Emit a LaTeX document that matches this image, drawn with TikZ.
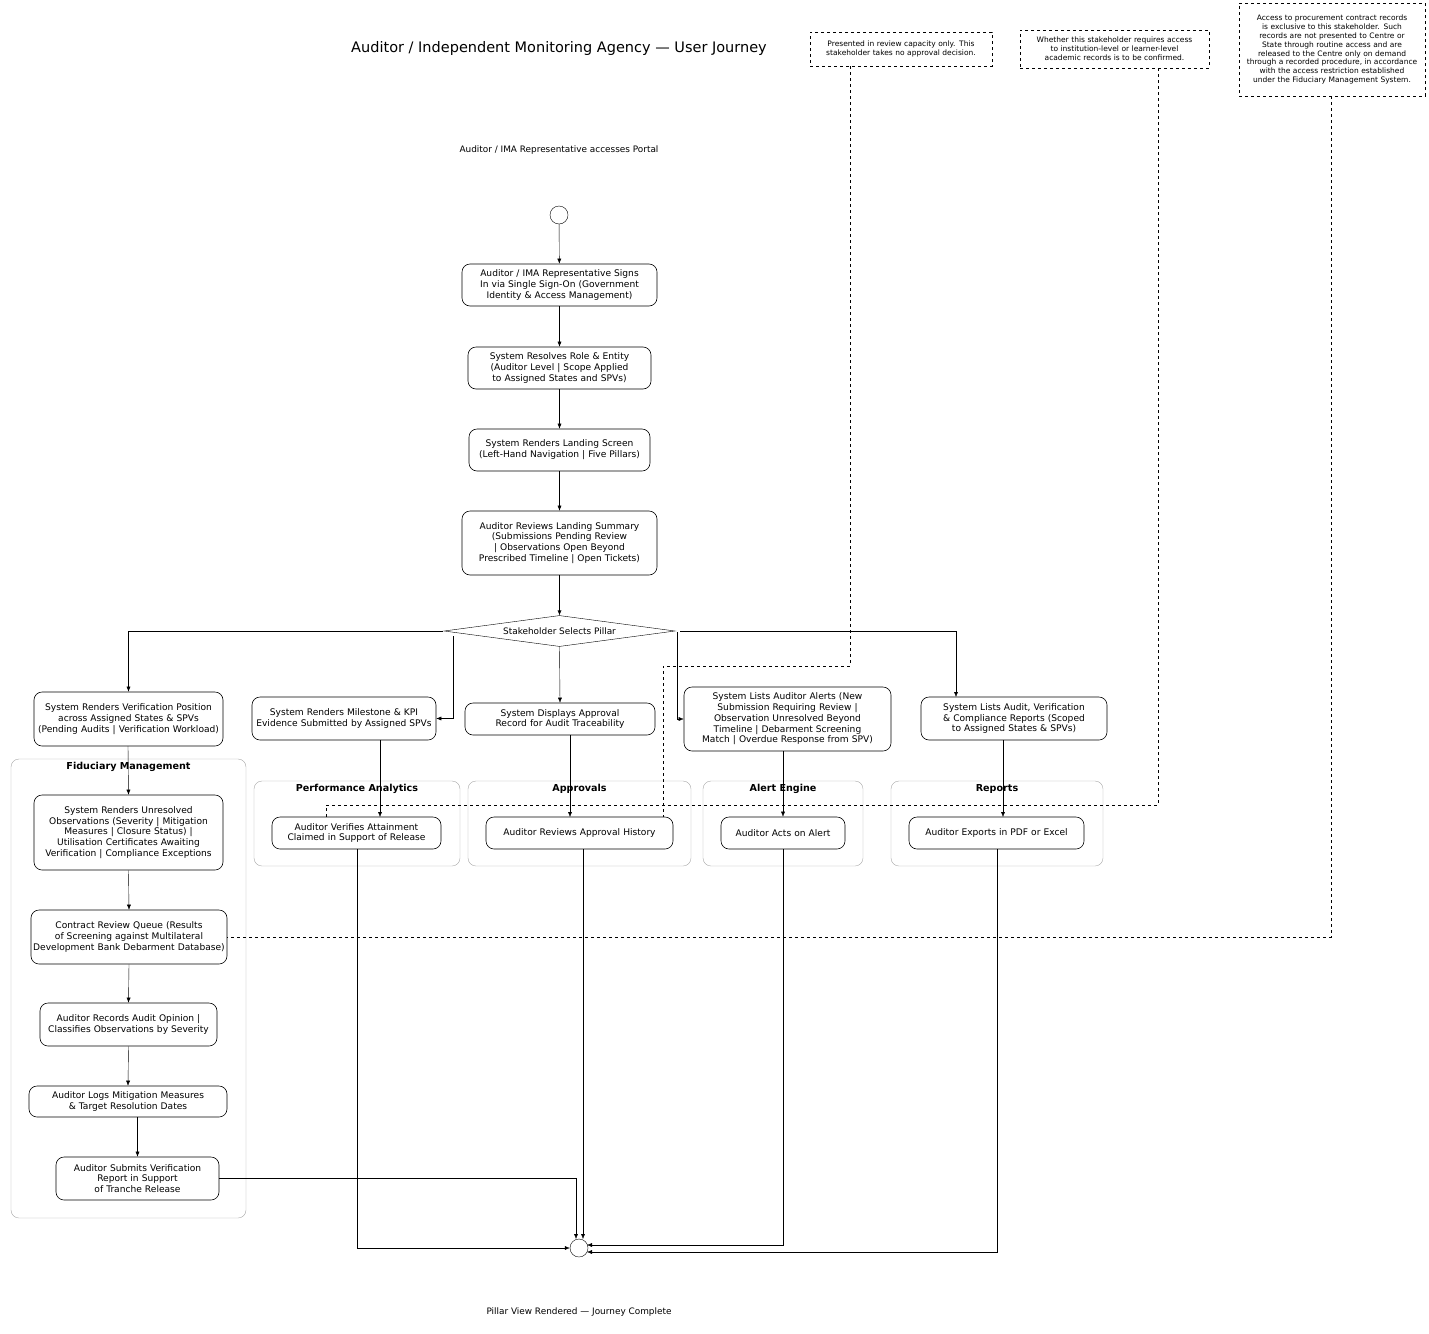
\documentclass[tikz,border=0pt]{standalone}
\usepackage{fontspec}
\setmainfont{DejaVu Sans}
\usetikzlibrary{shapes.geometric,arrows.meta}
\newcommand{\bx}[7]{% name, x1,y1,x2,y2, textwidth, text
 \node[box,minimum width={#4-#2},minimum height={#5-#3},text width=#6] (#1) at ({(#2+#4)/2},{(#3+#5)/2}) {#7};}
\newcommand{\cl}[6]{% name,x1,y1,x2,y2,label
 \draw[clus] (#2,#3) rectangle (#4,#5);
 \node[font=\fontsize{9.6}{11}\selectfont\bfseries] (#1) at ({(#2+#4)/2},{#3+8}) {#6};}
\begin{document}
\hyphenpenalty=10000 \exhyphenpenalty=10000
\begin{tikzpicture}[x=1pt,y=-1pt,
 box/.style={draw,semithick,rounded corners=8pt,align=center,inner sep=1pt,font=\fontsize{9.1}{10.8}\selectfont},
 note/.style={draw,dashed,semithick,align=center,font=\fontsize{7.5}{8.9}\selectfont,inner sep=1pt},
 clus/.style={draw=gray!70,rounded corners=8pt},
 ar/.style={-{Latex[length=5pt,width=4pt]}},
 dl/.style={dashed,semithick}]
\useasboundingbox (0,0) rectangle (1429,1333);
\node[font=\fontsize{14.5}{16}\selectfont] (title) at (559,48) {Auditor / Independent Monitoring Agency — User Journey};
\node[font=\fontsize{8.9}{10}\selectfont] (top) at (559,150) {Auditor / IMA Representative accesses Portal};
\node[font=\fontsize{8.9}{10}\selectfont] (bot) at (579,1312) {Pillar View Rendered — Journey Complete};
\node[draw,circle,minimum size=18pt,inner sep=0] (s) at (559,215) {};
\node[draw,circle,minimum size=18pt,inner sep=0] (e) at (579,1248) {};
% notes
\node[note,minimum width=182pt,minimum height=34pt,text width=172pt] (N1) at (901,49) {Presented in review capacity only. This stakeholder takes no approval decision.};
\node[note,minimum width=189pt,minimum height=38pt,text width=172pt] (N2) at (1114.5,49) {Whether this stakeholder requires access to institution-level or learner-level academic records is to be confirmed.};
\node[note,minimum width=186pt,minimum height=93pt,text width=176pt] (N3) at (1332,49.5) {Access to procurement contract records is exclusive to this stakeholder. Such records are not presented to Centre or State through routine access and are released to the Centre only on demand through a recorded procedure, in accordance with the access restriction established under the Fiduciary Management System.};
% clusters
\cl{C1}{11}{759}{246}{1218}{Fiduciary Management}
\cl{C2}{254}{781}{460}{866}{Performance Analytics}
\cl{C3}{468}{781}{691}{866}{Approvals}
\cl{C4}{703}{781}{863}{866}{Alert Engine}
\cl{C5}{891}{781}{1103}{866}{Reports}
% main nodes
\bx{n1}{462}{264}{657}{306}{182pt}{Auditor / IMA Representative Signs In via Single Sign-On (Government Identity \& Access Management)}
\bx{n2}{468}{347}{651}{389}{178pt}{System Resolves Role \& Entity (Auditor Level | Scope Applied to Assigned States and SPVs)}
\bx{n3}{469}{429}{650}{471}{178pt}{System Renders Landing Screen (Left-Hand Navigation | Five Pillars)}
\bx{n4}{462}{511}{657}{575}{172pt}{Auditor Reviews Landing Summary (Submissions Pending Review | Observations Open Beyond Prescribed Timeline | Open Tickets)}
\node[draw,diamond,aspect=7.4,minimum width=231pt,minimum height=31pt,inner sep=0,font=\fontsize{8.9}{10}\selectfont] (d) at (559.5,631) {Stakeholder Selects Pillar};
\bx{v1}{34}{692}{223}{746}{184pt}{System Renders Verification Position across Assigned States \& SPVs (Pending Audits | Verification Workload)}
\bx{v2}{252}{697}{436}{740}{180pt}{System Renders Milestone \& KPI Evidence Submitted by Assigned SPVs}
\bx{v3}{465}{703}{655}{735}{180pt}{System Displays Approval Record for Audit Traceability}
\bx{v4}{684}{687}{891}{751}{204pt}{System Lists Auditor Alerts (New Submission Requiring Review | Observation Unresolved Beyond Timeline | Debarment Screening Match | Overdue Response from SPV)}
\bx{v5}{921}{697}{1107}{740}{182pt}{System Lists Audit, Verification \& Compliance Reports (Scoped to Assigned States \& SPVs)}
\bx{p1}{272}{817}{441}{849}{165pt}{Auditor Verifies Attainment Claimed in Support of Release}
\bx{p2}{486}{817}{673}{849}{180pt}{Auditor Reviews Approval History}
\bx{p3}{721}{817}{845}{849}{120pt}{Auditor Acts on Alert}
\bx{p4}{909}{817}{1084}{849}{170pt}{Auditor Exports in PDF or Excel}
\bx{f1}{34}{795}{223}{870}{178pt}{System Renders Unresolved Observations (Severity | Mitigation Measures | Closure Status) | Utilisation Certificates Awaiting Verification | Compliance Exceptions}
\bx{f2}{31}{910}{227}{964}{192pt}{Contract Review Queue (Results of Screening against Multilateral Development Bank Debarment Database)}
\bx{f3}{40}{1003}{217}{1046}{172pt}{Auditor Records Audit Opinion | Classifies Observations by Severity}
\bx{f4}{29}{1086}{227}{1117}{194pt}{Auditor Logs Mitigation Measures \& Target Resolution Dates}
\bx{f5}{56}{1157}{219}{1200}{160pt}{Auditor Submits Verification Report in Support of Tranche Release}
% edges
\draw[ar] (s) -- (n1);
\draw[ar] (n1) -- (n2);
\draw[ar] (n2) -- (n3);
\draw[ar] (n3) -- (n4);
\draw[ar] (n4) -- (d);
\draw[ar] (443,631) -| (v1.north);
\draw[ar] (453,636) |- (v2.east);
\draw[ar] (d.south) -- (v3.north);
\draw[ar] (677,632) |- (v4.west);
\draw[ar] (680,631) -| (956,697);
\draw[ar] (128,746) -- (f1.north);
\draw[ar] (f1.south) -- (f2.north);
\draw[ar] (f2.south) -- (f3.north);
\draw[ar] (f3.south) -- (f4.north);
\draw[ar] (137.5,1117) -- (f5.north);
\draw[ar] (380,740) -- (380,817);
\draw[ar] (570,735) -- (570,817);
\draw[ar] (783,751) -- (p3.north);
\draw[ar] (1003,740) -- (1003,817);
\draw[ar] (357,849) |- (e.west);
\draw[ar] (583,849) -- (583,1239);
\draw[ar] (783,849) |- (587,1245);
\draw[ar] (997,849) |- (587,1252);
\draw[ar] (f5.east) -| (576,1239);
% note connectors
\draw[dl] (N1.south -| 850,0) |- (663,666) -- (663,817);
\draw[dl] (N2.south -| 1158,0) |- (326,805) -- (326,817);
\draw[dl] (N3.south -| 1331,0) |- (f2.east);
\end{tikzpicture}
\end{document}
